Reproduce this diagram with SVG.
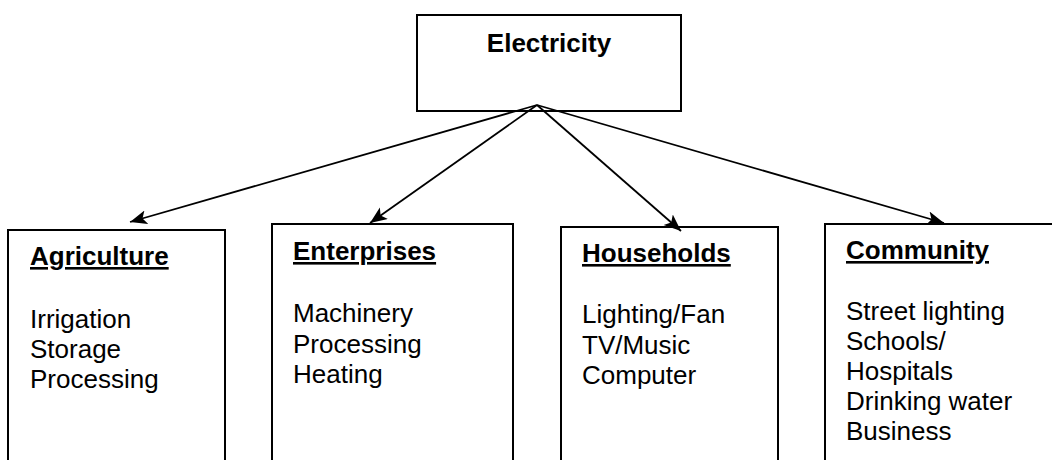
<svg xmlns="http://www.w3.org/2000/svg" width="1052" height="460" viewBox="0 0 1052 460">
<style>
.box{fill:#fff;stroke:#000;stroke-width:2}
.t{font-family:"Liberation Sans",Arial,sans-serif;font-size:26px;fill:#000}
.h{font-weight:bold;text-decoration:underline}
.c{stroke:#000;stroke-width:1.8;fill:none;marker-end:url(#ah)}
</style>
<defs>
<marker id="ah" markerUnits="userSpaceOnUse" markerWidth="20" markerHeight="16" refX="17" refY="7" orient="auto">
<path d="M0,0 L17,7 L0,14 L4,7 Z" fill="#000"/>
</marker>
</defs>
<g id="electricity">
<rect class="box" x="417" y="15" width="264" height="96"/>
<text class="t" x="549" y="52" text-anchor="middle" font-weight="bold">Electricity</text>
</g>
<g id="agriculture">
<rect class="box" x="8" y="230" width="217" height="250"/>
<text class="t h" x="30" y="265">Agriculture</text>
<text class="t" x="30" y="328">Irrigation</text>
<text class="t" x="30" y="358">Storage</text>
<text class="t" x="30" y="388">Processing</text>
</g>
<g id="enterprises">
<rect class="box" x="272" y="224" width="241" height="256"/>
<text class="t h" x="293" y="260">Enterprises</text>
<text class="t" x="293" y="322">Machinery</text>
<text class="t" x="293" y="353">Processing</text>
<text class="t" x="293" y="383">Heating</text>
</g>
<g id="households">
<rect class="box" x="561" y="227" width="217" height="253"/>
<text class="t h" x="582" y="262">Households</text>
<text class="t" x="582" y="323">Lighting/Fan</text>
<text class="t" x="582" y="354">TV/Music</text>
<text class="t" x="582" y="384">Computer</text>
</g>
<g id="community">
<rect class="box" x="825" y="224" width="250" height="256"/>
<text class="t h" x="846" y="259">Community</text>
<text class="t" x="846" y="320">Street lighting</text>
<text class="t" x="846" y="350">Schools/</text>
<text class="t" x="846" y="380">Hospitals</text>
<text class="t" x="846" y="410">Drinking water</text>
<text class="t" x="846" y="440">Business</text>
</g>
<g id="connectors">
<line class="c" x1="537" y1="105" x2="130" y2="222"/>
<line class="c" x1="537" y1="105" x2="370" y2="223"/>
<line class="c" x1="537" y1="105" x2="681" y2="231"/>
<line class="c" x1="537" y1="105" x2="944" y2="223"/>
</g>
</svg>
